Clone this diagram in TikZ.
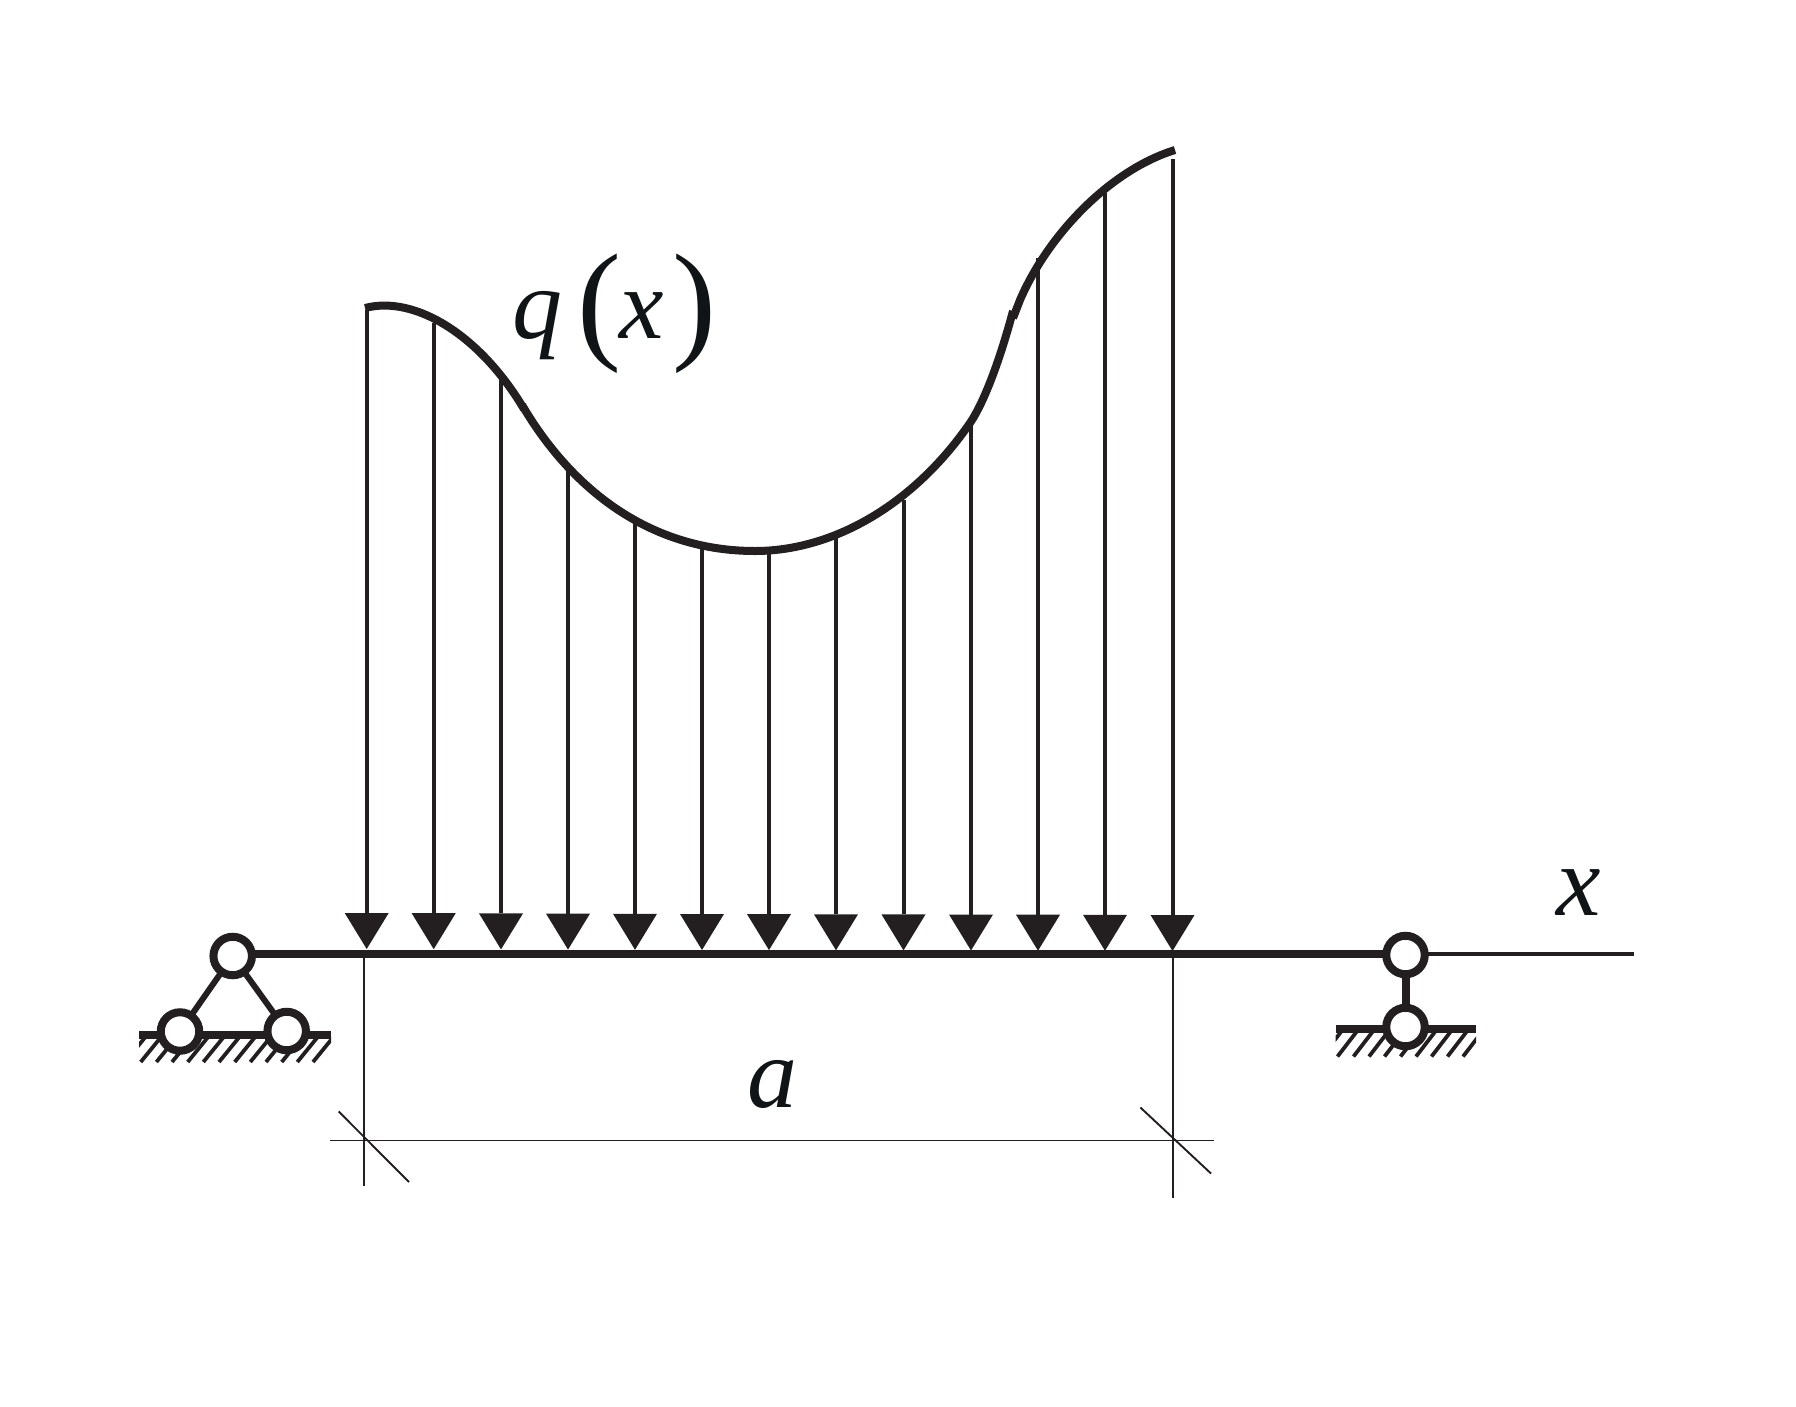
\documentclass[tikz,border=0pt]{standalone}
\usepackage{fontspec}
\setmainfont{Liberation Serif}
\usetikzlibrary{arrows.meta}
\definecolor{ink}{HTML}{231F20}
\definecolor{txt}{HTML}{111416}
\tikzset{
  hinge/.style={circle,draw=ink,fill=white,line width=8pt,minimum size=38.5pt,inner sep=0pt,outer sep=0pt},
  beam/.style={draw=ink,line width=8.5pt},
  linkbar/.style={draw=ink,line width=6pt},
  groundbar/.style={draw=ink,line width=8.5pt},
  hatchbar/.style={draw=ink,line width=3.8pt},
  axisline/.style={draw=ink,line width=4.4pt},
  loadarrow/.style={draw=ink,fill=ink,line width=4pt,-{Triangle[length=36pt,width=44pt,line width=0pt]}},
  thinline/.style={draw=ink,line width=1.9pt},
  load/.style={draw=ink,line width=8pt},
  lab/.style={text=txt,inner sep=0pt,anchor=base}
}
\begin{document}
\begin{tikzpicture}[x=1pt,y=-1pt]
\useasboundingbox[fill=white] (0,0) rectangle (1796,1406);
% load curve
\draw[load] (365,308) .. controls (415,295) and (480,335) .. (524,409);
\draw[load] (522,405) .. controls (575,495) and (655,551) .. (755,551)
  .. controls (831,551) and (912,507) .. (970,423)
  .. controls (985,401) and (1001,356) .. (1013,311);
\draw[load] (1013,318) -- (1020,300) .. controls (1048,235) and (1110,170) .. (1175,150);
% load arrows
\foreach \px/\top/\tip [count=\i] in {366.7/310/949,433.7/323/949.2,501/375/949.4,568/470/949.6,635/523/949.8,702/547/950,769/553/950.1,836/538/950.3,903.5/500/950.4,971/423/950.5,1038/258/950.7,1105/193/950.8,1172.5/159/951}{
  \coordinate (s\i) at (\px,\top);
  \coordinate (e\i) at (\px,\tip);
  \draw[loadarrow] (s\i) -- (e\i);
}
% beam and axis
\coordinate (axisend) at (1634,954);
% left support ground
\begin{scope}
  \clip (139,1030) rectangle (331,1065);
  \foreach \b in {125,140.7,156.4,172,187.7,203.3,219,234.7,250.3,266,281.7,297.3,313}{
    \draw[hatchbar] (\b,1062) -- ++(22,-27);
  }
\end{scope}
\coordinate (gl1) at (139,1035);
\coordinate (gl2) at (331,1035);
\draw[groundbar] (gl1) -- (gl2);
% right support ground
\begin{scope}
  \clip (1335.5,1028) rectangle (1476,1060);
  \foreach \b in {1322,1337.5,1353.5,1369,1384.5,1400.5,1416,1431.5,1447.5,1463}{
    \draw[hatchbar] (\b,1056.5) -- ++(20,-26);
  }
\end{scope}
\coordinate (gr1) at (1335.5,1029);
\coordinate (gr2) at (1476,1029);
\draw[groundbar] (gr1) -- (gr2);
% hinges
\node[hinge] (ha) at (232.7,956) {};
\node[hinge] (hb) at (180,1031.5) {};
\node[hinge] (hc) at (286.7,1031) {};
\node[hinge] (hd) at (1405.5,955) {};
\node[hinge] (he) at (1405.5,1027) {};
\draw[linkbar] (ha) -- (hb);
\draw[linkbar] (ha) -- (hc);
\draw[linkbar,line width=8pt] (hd) -- (he);
\draw[beam] (ha.east |- 0,954) -- (hd.west |- 0,954);
\draw[axisline] (hd.east |- 0,954) -- (axisend);
% dimensions
\coordinate (d1t) at (363.7,956);
\coordinate (d1b) at (363.7,1186);
\coordinate (d2t) at (1173,956);
\coordinate (d2b) at (1173,1198);
\coordinate (dl) at (330,1140.5);
\coordinate (dr) at (1214,1140.5);
\coordinate (t1a) at (338.7,1111.5);
\coordinate (t1b) at (409,1182);
\coordinate (t2a) at (1140.4,1107.5);
\coordinate (t2b) at (1211,1173.5);
\draw[thinline] (d1t) -- (d1b);
\draw[thinline] (d2t) -- (d2b);
\draw[thinline] (dl) -- (dr);
\draw[thinline] (t1a) -- (t1b);
\draw[thinline] (t2a) -- (t2b);
% labels
\node[lab,font={\fontsize{100}{100}\selectfont\itshape}] (lq) at (537,338) {q};
\node[lab,font={\fontsize{132}{132}\selectfont}] (lpa) at (599,345) {(};
\node[lab,font={\fontsize{100}{100}\selectfont\itshape}] (lx) at (642,338) {x};
\node[lab,font={\fontsize{132}{132}\selectfont}] (lpb) at (694,345) {)};
\node[lab,font={\fontsize{100}{100}\selectfont\itshape}] (lxa) at (1579,915) {x};
\node[lab,font={\fontsize{100}{100}\selectfont\itshape}] (la) at (772,1107) {a};
\end{tikzpicture}
\end{document}
